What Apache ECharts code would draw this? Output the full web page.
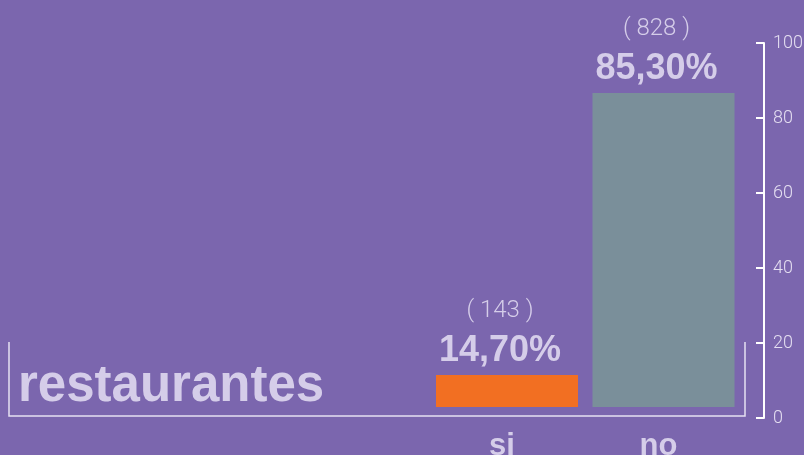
<!DOCTYPE html>
<html>
<head>
<meta charset="utf-8">
<script src="https://cdn.jsdelivr.net/npm/echarts@6/dist/echarts.min.js"></script>
<style>
  html, body { margin: 0; padding: 0; background: #7b66ae; }
  #chart { width: 804px; height: 455px; }
</style>
</head>
<body>
<div id="chart"></div>
<script>
// datos
const categorias = ['si', 'no'];
const porcentajes = [14.7, 85.3];
const conteos = [143, 828];
const ejeTicks = [0, 20, 40, 60, 80, 100];
const titulo = 'restaurantes';

// eje oculto de las barras (la infografía no parte de 0)
const BAR_MIN = 6.7;
const BAR_MAX = 97.8;

const lavanda = '#d5cde9';
const fmtPct = (v) => v.toFixed(2).replace('.', ',') + '%';

const chart = echarts.init(document.getElementById('chart'));

const option = {
  backgroundColor: '#7b66ae',
  animation: false,
  grid: [
    // eje visible a la derecha
    { right: 40, top: 43, bottom: 37, left: 700, outerBoundsMode: 'none' },
    // barras
    { left: 428.75, right: 62.25, top: 43, bottom: 48, outerBoundsMode: 'none' },
  ],
  xAxis: [
    { gridIndex: 0, type: 'value', show: false },
    {
      gridIndex: 1,
      type: 'category',
      data: categorias,
      axisLine: { show: false },
      axisTick: { show: false },
      axisLabel: {
        color: lavanda,
        fontFamily: 'Liberation Sans',
        fontWeight: 'bold',
        fontSize: 31,
        margin: 24,
        padding: [0, 10, 0, 0],
      },
    },
  ],
  yAxis: [
    {
      gridIndex: 0,
      type: 'value',
      position: 'right',
      min: ejeTicks[0],
      max: ejeTicks[ejeTicks.length - 1],
      interval: 20,
      axisLine: { show: true, onZero: false, lineStyle: { color: '#ffffff', width: 2 } },
      axisTick: { show: true, inside: true, length: 8, lineStyle: { color: '#ffffff', width: 2 } },
      axisLabel: {
        margin: 9,
        color: '#e4def1',
        fontFamily: 'Roboto',
        fontWeight: 300,
        fontSize: 18,
      },
      splitLine: { show: false },
    },
    {
      gridIndex: 1,
      type: 'value',
      min: BAR_MIN,
      max: BAR_MAX,
      show: false,
    },
  ],
  series: [
    {
      type: 'bar',
      xAxisIndex: 1,
      yAxisIndex: 1,
      barWidth: 142,
      data: porcentajes.map((v, i) => ({
        value: v,
        itemStyle: { color: i === 0 ? '#f26f22' : '#7a8f9a' },
      })),
      label: {
        show: true,
        position: 'top',
        distance: 6,
        offset: [-7, 0],
        formatter: (p) => `{n|( ${conteos[p.dataIndex]} )}\n{p|${fmtPct(p.value)}}`,
        rich: {
          n: {
            color: lavanda,
            fontFamily: 'Roboto',
            fontWeight: 300,
            fontSize: 24,
            lineHeight: 44,
          },
          p: {
            color: lavanda,
            fontFamily: 'Liberation Sans',
            fontWeight: 'bold',
            fontSize: 36,
            lineHeight: 36,
          },
        },
      },
    },
  ],
  graphic: [
    {
      type: 'polyline',
      shape: { points: [[9, 342], [9, 416], [745, 416], [745, 342]] },
      style: { stroke: '#e6e1f2', lineWidth: 1.5, fill: null },
      silent: true,
    },
    {
      type: 'text',
      left: 18,
      top: 361,
      style: {
        text: titulo,
        fill: lavanda,
        font: 'bold 51px "Liberation Sans"',
      },
    },
  ],
};

chart.setOption(option);
</script>
</body>
</html>
